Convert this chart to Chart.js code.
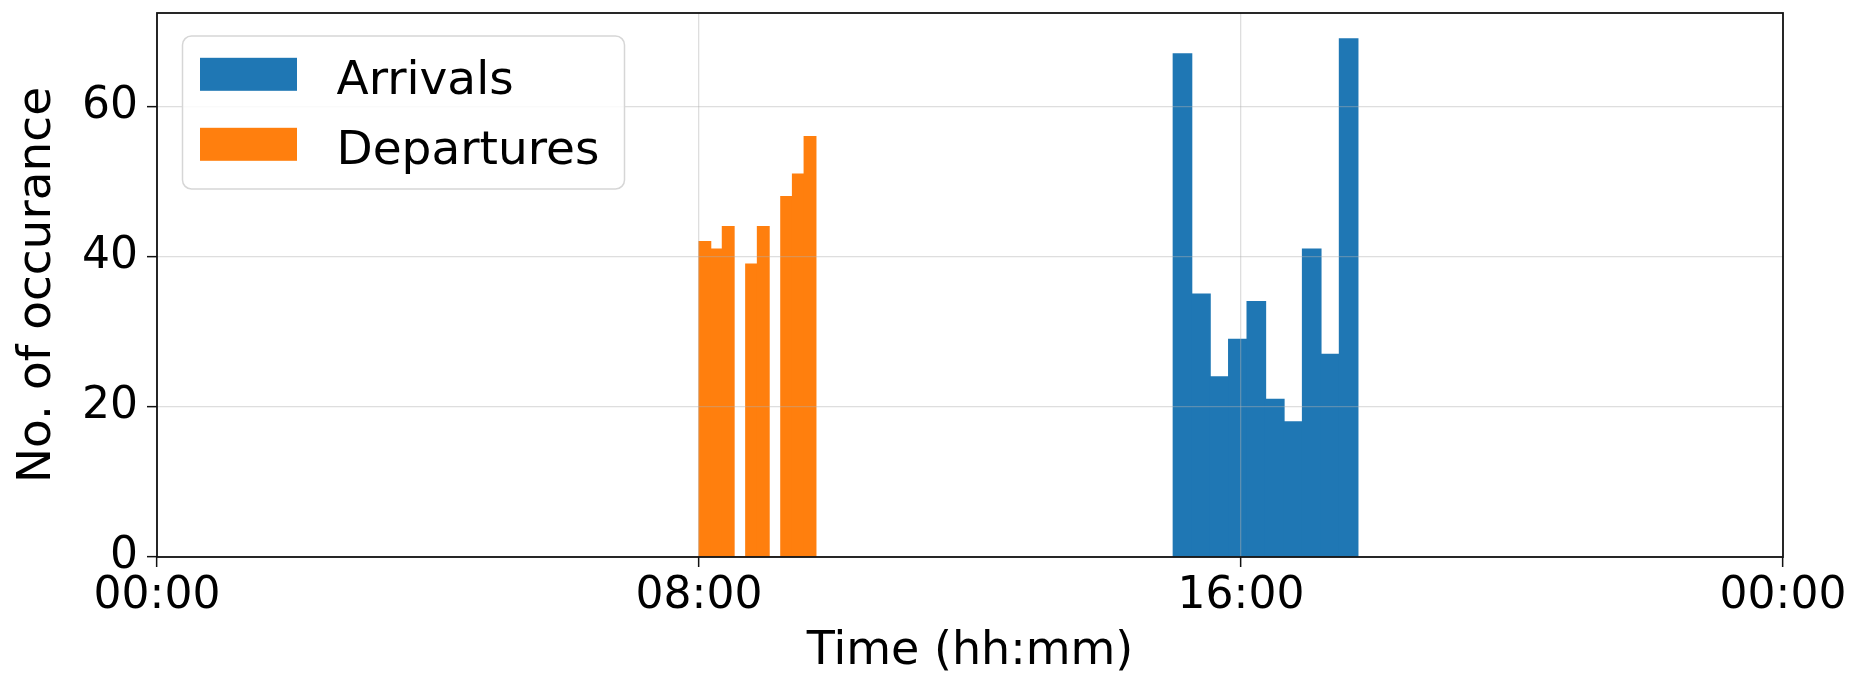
<!DOCTYPE html>
<html>
<head>
<meta charset="utf-8">
<script src="https://cdn.jsdelivr.net/npm/chart.js@4.4.0/dist/chart.umd.min.js"></script>
<style>
html,body{margin:0;padding:0;background:#fff;}
#wrap{width:1849px;height:677px;position:relative;}
</style>
</head>
<body>
<div id="wrap"><canvas id="c" width="1849" height="677"></canvas></div>
<script>
// ---- data (times in minutes after midnight) ----
const seriesLabels = ['Arrivals', 'Departures'];
const seriesColors = ['#1f77b4', '#ff7f0e'];

const arrivalBinStarts = [900, 916.35, 932.7, 949.05, 965.4, 981.75, 998.1, 1014.45, 1030.8, 1047.15];
const arrivalBinWidth = 16.35;
const arrivalCounts = [67, 35, 24, 29, 34, 21, 18, 41, 27, 69];

const departureBinStarts = [480, 490.35, 500.7, 511.05, 521.4, 531.75, 542.1, 552.45, 562.8, 573.15];
const departureBinWidth = 10.35;
const departureCounts = [42, 41, 44, 0, 39, 44, 0, 48, 51, 56];

const xTickMinutes = [0, 480, 960, 1440];
const yTickValues = [0, 20, 40, 60];
const xTitle = 'Time (hh:mm)';
const yTitle = 'No. of occurance';

// ---- helpers ----
function toPoints(starts, width, counts) {
  return starts.map((s, i) => ({ x: s + width / 2, y: counts[i] }));
}
function fmtTime(m) {
  const mm = ((Math.round(m) % 1440) + 1440) % 1440;
  const h = Math.floor(mm / 60), mi = mm % 60;
  return String(h).padStart(2, '0') + ':' + String(mi).padStart(2, '0');
}

Chart.defaults.font.family = "'DejaVu Sans', 'Liberation Sans', sans-serif";
Chart.defaults.color = '#000';

const framePlugin = {
  id: 'frame',
  afterDraw(chart) {
    const { ctx, chartArea: a } = chart;
    ctx.save();
    ctx.strokeStyle = '#111';
    ctx.lineWidth = 1.8;
    ctx.strokeRect(a.left, a.top, a.right - a.left, a.bottom - a.top);
    ctx.restore();
  }
};

const legendPlugin = {
  id: 'insideLegend',
  afterDraw(chart) {
    const { ctx, chartArea: a } = chart;
    const bx = a.left + 25.5, by = a.top + 23, bw = 442, bh = 153, r = 9;
    ctx.save();
    ctx.beginPath();
    ctx.moveTo(bx + r, by);
    ctx.arcTo(bx + bw, by, bx + bw, by + bh, r);
    ctx.arcTo(bx + bw, by + bh, bx, by + bh, r);
    ctx.arcTo(bx, by + bh, bx, by, r);
    ctx.arcTo(bx, by, bx + bw, by, r);
    ctx.closePath();
    ctx.fillStyle = 'rgba(255,255,255,0.85)';
    ctx.fill();
    ctx.strokeStyle = '#d6d6d6';
    ctx.lineWidth = 1.5;
    ctx.stroke();
    ctx.font = "47px 'DejaVu Sans', sans-serif";
    ctx.textAlign = 'left';
    ctx.textBaseline = 'alphabetic';
    chart.data.datasets.forEach((ds, i) => {
      const cy = by + 38.3 + i * 70;
      ctx.fillStyle = ds.backgroundColor;
      ctx.fillRect(bx + 17.5, cy - 16.5, 97, 33);
      ctx.fillStyle = '#000';
      ctx.fillText(ds.label, bx + 154, cy + 19.4);
    });
    ctx.restore();
  }
};

const gridColor = 'rgba(176,176,176,0.42)';

new Chart(document.getElementById('c'), {
  type: 'bar',
  data: {
    datasets: [
      {
        label: seriesLabels[0],
        data: toPoints(arrivalBinStarts, arrivalBinWidth, arrivalCounts),
        backgroundColor: seriesColors[0],
        borderWidth: 0,
        inflateAmount: 0.6,
        grouped: false,
        categoryPercentage: 1,
        barPercentage: arrivalBinWidth / departureBinWidth
      },
      {
        label: seriesLabels[1],
        data: toPoints(departureBinStarts, departureBinWidth, departureCounts),
        backgroundColor: seriesColors[1],
        borderWidth: 0,
        inflateAmount: 0.6,
        grouped: false,
        categoryPercentage: 1,
        barPercentage: 1
      }
    ]
  },
  options: {
    responsive: false,
    devicePixelRatio: 1,
    animation: false,
    events: [],
    layout: { padding: { left: 0, right: 66, top: 13, bottom: 0 } },
    plugins: { legend: { display: false }, tooltip: { enabled: false } },
    scales: {
      x: {
        type: 'linear',
        min: 0,
        max: 1440,
        offset: false,
        afterBuildTicks(s) { s.ticks = xTickMinutes.map(v => ({ value: v })); },
        afterFit(s) { s.height = 120; s.paddingLeft = 0; s.paddingRight = 0; s.paddingTop = 0; s.paddingBottom = 0; },
        grid: {
          z: 1, offset: false, color: gridColor, lineWidth: 1.3,
          drawTicks: true, tickLength: 10, tickColor: '#111', tickWidth: 1.5
        },
        border: { display: false },
        ticks: {
          autoSkip: false, maxRotation: 0, padding: 3,
          font: { size: 44, lineHeight: 1.2 }, color: '#000',
          callback: v => fmtTime(v)
        },
        title: {
          display: true, text: xTitle,
          font: { size: 46, lineHeight: 1.0 }, color: '#000',
          padding: { top: 0, bottom: 2 }
        }
      },
      y: {
        type: 'linear',
        min: 0,
        max: 72.45,
        afterBuildTicks(s) { s.ticks = yTickValues.map(v => ({ value: v })); },
        afterFit(s) { s.width = 157; s.paddingTop = 0; s.paddingBottom = 0; s.paddingLeft = 0; s.paddingRight = 0; },
        grid: {
          z: 1, color: gridColor, lineWidth: 1.3,
          drawTicks: true, tickLength: 10, tickColor: '#111', tickWidth: 1.5
        },
        border: { display: false },
        ticks: { padding: 9, font: { size: 44, lineHeight: 1.2 }, color: '#000' },
        title: {
          display: true, text: yTitle,
          font: { size: 47, lineHeight: 1.2 }, color: '#000',
          padding: { top: 9.5, bottom: 0 }
        }
      }
    }
  },
  plugins: [framePlugin, legendPlugin]
});
</script>
</body>
</html>
